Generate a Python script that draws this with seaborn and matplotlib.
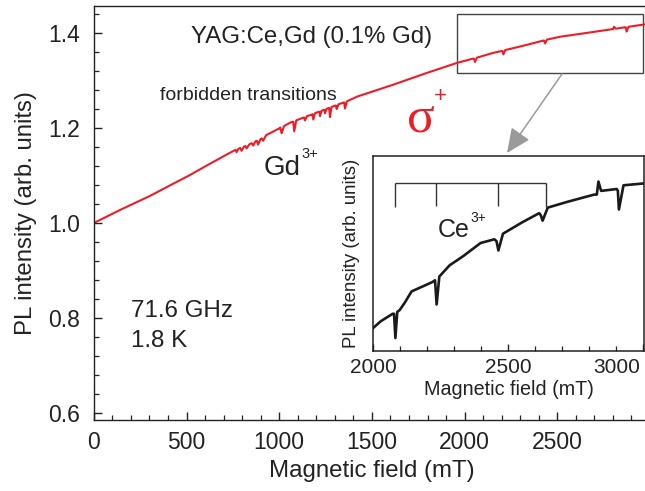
import matplotlib
matplotlib.use("Agg")
import matplotlib.pyplot as plt
import seaborn as sns
from matplotlib.ticker import MultipleLocator, FixedLocator, FixedFormatter, FormatStrFormatter
from matplotlib.patches import Rectangle, FancyArrowPatch

# ---------------- data ----------------
main_field = [0, 150, 303, 420, 519, 600, 735, 765, 770, 780, 790, 797, 810, 818, 824, 840,
              852, 860, 872, 880, 886, 900, 907, 913, 930, 950, 1000, 1006, 1013, 1026, 1058,
              1070, 1076, 1081, 1092, 1125, 1134, 1139, 1150, 1175, 1180, 1184, 1193, 1212,
              1217, 1220, 1228, 1240, 1244, 1247, 1255, 1266, 1270, 1274, 1282, 1300, 1306,
              1310, 1320, 1345, 1350, 1355, 1365, 1420, 1614, 1797, 1959, 2045, 2050, 2056,
              2066, 2153, 2199, 2204, 2209, 2219, 2336, 2424, 2429, 2434, 2444, 2514, 2692,
              2796, 2801, 2806, 2816, 2864, 2869, 2874, 2884, 2970]
main_pl = [1.000, 1.029, 1.057, 1.081, 1.101, 1.119, 1.148, 1.154, 1.149, 1.156, 1.158, 1.152,
           1.161, 1.162, 1.157, 1.166, 1.168, 1.163, 1.172, 1.173, 1.165, 1.177, 1.178, 1.173,
           1.185, 1.189, 1.199, 1.201, 1.189, 1.204, 1.211, 1.213, 1.213, 1.193, 1.216, 1.221,
           1.222, 1.216, 1.225, 1.228, 1.229, 1.218, 1.231, 1.234, 1.234, 1.225, 1.236, 1.238,
           1.238, 1.231, 1.240, 1.242, 1.242, 1.223, 1.244, 1.247, 1.247, 1.240, 1.250, 1.253,
           1.254, 1.241, 1.256, 1.266, 1.291, 1.316, 1.337, 1.346, 1.346, 1.339, 1.348, 1.358,
           1.362, 1.362, 1.355, 1.364, 1.375, 1.384, 1.384, 1.378, 1.386, 1.392, 1.402, 1.408,
           1.408, 1.413, 1.409, 1.412, 1.412, 1.403, 1.413, 1.418]

inset_field = [2000, 2029, 2073, 2078, 2083, 2090, 2099, 2118, 2143, 2220, 2230, 2236, 2246,
               2284, 2335, 2399, 2450, 2458, 2465, 2482, 2552, 2616, 2622, 2629, 2648, 2718,
               2820, 2830, 2836, 2846, 2904, 2908, 2912, 2929, 3005]
inset_pl = [1.3403, 1.344, 1.348, 1.348, 1.335, 1.349, 1.350, 1.354, 1.360, 1.365, 1.366,
            1.353, 1.368, 1.374, 1.379, 1.386, 1.388, 1.387, 1.382, 1.391, 1.397, 1.402, 1.401,
            1.398, 1.405, 1.408, 1.412, 1.412, 1.419, 1.414, 1.415, 1.414, 1.404, 1.417, 1.418]

ce_lines_field = [2080, 2235, 2463, 2641]
ce_lines_bottom = [1.4052, 1.4058, 1.4061, 1.4052]
ce_bracket_top = 1.418

main_xticks = [0, 500, 1000, 1500, 2000, 2500]
main_yticks = [0.6, 0.8, 1.0, 1.2, 1.4]
inset_xticks = [2000, 2500, 3000]
inset_xticklabels = ['2000', '2500', '3000']

# ---------------- style ----------------
sns.set_theme(style="ticks")
plt.rcParams['font.family'] = ['Liberation Sans', 'DejaVu Sans']
plt.rcParams['axes.linewidth'] = 1.0

W, H = 645, 491
fig = plt.figure(figsize=(W / 100, H / 100), dpi=100)


def fx(px):
    return px / W


def fy(py):
    return 1 - py / H


RED = '#ee1c25'
TXT = '#222222'

# main axes
ax = fig.add_axes([fx(93.8), fy(420), 3000 * 0.1854 / W, (420 - 6) / H])
sns.lineplot(x=main_field, y=main_pl, ax=ax, color=RED, lw=1.5,
             estimator=None, sort=False)
ax.set_xlim(0, 3000)
ax.set_ylim(0.5853, 1.4568)
ax.xaxis.set_major_locator(FixedLocator(main_xticks))
ax.xaxis.set_minor_locator(MultipleLocator(100))
ax.yaxis.set_major_locator(FixedLocator(main_yticks))
ax.yaxis.set_minor_locator(MultipleLocator(0.04))
ax.yaxis.set_major_formatter(FormatStrFormatter('%.1f'))
ax.tick_params(which='both', direction='in', top=False, right=False, color=TXT)
ax.tick_params(which='major', length=6, width=1.0, labelsize=16.5, labelcolor=TXT)
ax.tick_params(axis='y', which='major', pad=10)
ax.tick_params(axis='x', which='major', pad=8)
ax.tick_params(which='minor', length=3.5, width=0.9)
ax.spines['right'].set_visible(False)
for s in ['left', 'bottom', 'top']:
    ax.spines[s].set_color(TXT)
ax.set_xlabel('Magnetic field (mT)', fontsize=17.3, labelpad=4, color=TXT)
ax.set_ylabel('PL intensity (arb. units)', fontsize=17.3, labelpad=8, color=TXT)

# zoom rectangle
ax.add_patch(Rectangle((1960, 1.316), 1002, 0.124, fill=False, ec='#444444', lw=1.0))

# texts
fig.text(fx(191), fy(43.5), 'YAG:Ce,Gd (0.1% Gd)', fontsize=17.3, color=TXT, va='baseline')
fig.text(fx(160), fy(100), 'forbidden transitions', fontsize=14, color=TXT, va='baseline')
fig.text(fx(264), fy(175), 'Gd', fontsize=20, color=TXT, va='baseline')
fig.text(fx(301), fy(158), '3+', fontsize=10.5, color=TXT, va='baseline')
fig.text(fx(421), fy(132), 'σ', fontsize=37, color=RED, va='baseline', ha='center',
         family=['Liberation Serif', 'DejaVu Serif'])
fig.text(fx(440), fy(97), '+', fontsize=16, color=RED, va='center', ha='center')
fig.text(fx(130.7), fy(316.7), '71.6 GHz', fontsize=17.4, color=TXT, va='baseline')
fig.text(fx(130.7), fy(346.7), '1.8 K', fontsize=17.4, color=TXT, va='baseline')

# inset axes
axi = fig.add_axes([fx(373), fy(351), (644 - 373) / W, (351 - 155.5) / H])
sns.lineplot(x=inset_field, y=inset_pl, ax=axi, color='#1a1a1a', lw=1.9,
             estimator=None, sort=False)
axi.set_xlim(2000, 3005)
axi.set_ylim(1.328, 1.433)
axi.set_yticks([])
axi.xaxis.set_major_locator(FixedLocator(inset_xticks))
# the last label is placed by hand (shifted left to stay inside the picture)
axi.xaxis.set_major_formatter(FixedFormatter(inset_xticklabels[:-1] + ['']))
axi.xaxis.set_minor_locator(MultipleLocator(100))
axi.tick_params(which='both', direction='in', top=False, right=False, color=TXT)
axi.tick_params(which='major', length=5, width=1.0, labelsize=15, pad=5, labelcolor=TXT)
axi.tick_params(which='minor', length=3.5, width=0.9)
for s in axi.spines.values():
    s.set_color(TXT)
    s.set_linewidth(1.1)
axi.set_xlabel('Magnetic field (mT)', fontsize=14.2, labelpad=2, color=TXT)
axi.set_ylabel('PL intensity (arb. units)', fontsize=13.4, labelpad=9, color=TXT)
fig.text(fx(640), fy(358), inset_xticklabels[-1], fontsize=15, color=TXT,
         ha='right', va='top')

# Ce3+ bracket
axi.hlines(ce_bracket_top, ce_lines_field[0], ce_lines_field[-1], color='#333333', lw=1.0)
axi.vlines(ce_lines_field, ce_lines_bottom, ce_bracket_top, color='#333333', lw=1.0)
fig.text(fx(437.6), fy(236.6), 'Ce', fontsize=18, color=TXT, va='baseline')
fig.text(fx(470), fy(222.5), '3+', fontsize=10, color=TXT, va='baseline')

# arrow
fig.add_artist(FancyArrowPatch(
    (562, H - 74), (507, H - 153), transform=None,
    arrowstyle='-|>,head_length=1.0,head_width=0.45', mutation_scale=15,
    color='#9a9a9a', lw=1.1, shrinkA=0, shrinkB=0))

fig.savefig('out.png', dpi=100)
